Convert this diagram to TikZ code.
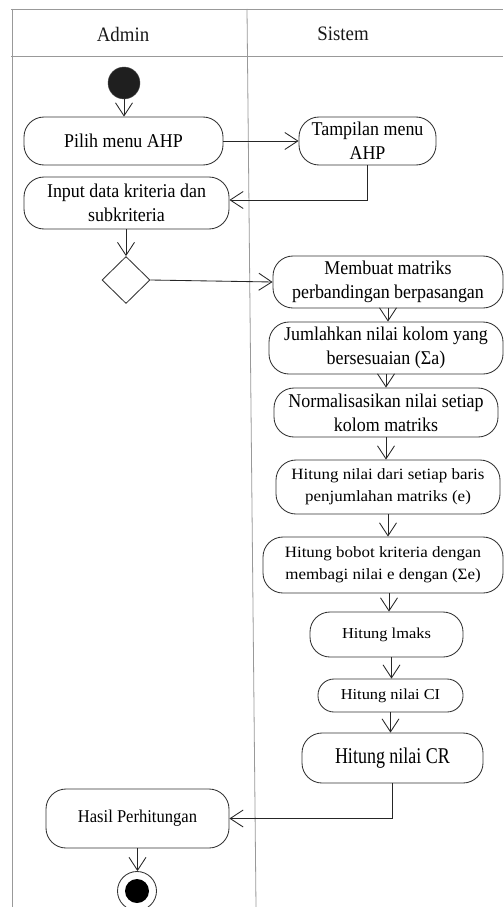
\documentclass[tikz,border=0pt]{standalone}
\usepackage{fontspec}
\setmainfont{Liberation Serif}
% narrow, wide and condensed cuts of the same serif face
\newfontfamily\serifN[FakeStretch=0.92]{Liberation Serif}
\newfontfamily\serifW[FakeStretch=1.08]{Liberation Serif}
\newfontfamily\serifC[FakeStretch=0.80]{Liberation Serif}
\usetikzlibrary{arrows.meta,shapes.geometric}

\begin{document}
\begin{tikzpicture}[x=1pt,y=-1pt,
  lane/.style={draw=black!40, line width=0.8pt},
  act/.style={draw=black!80, line width=0.85pt, rounded corners=20pt,
    align=center, inner sep=0pt, fill=white, text=black},
  flow/.style={draw=black!85, line width=0.85pt,
    -{Straight Barb[length=13pt,width=17pt]}},
  fHead/.style={font=\serifN\fontsize{20.5}{24}\selectfont, text=black!90},
  fN/.style={font=\serifN\fontsize{19.5}{24}\selectfont},
  fW/.style={font=\serifW\fontsize{15.7}{22}\selectfont},
  fWs/.style={font=\serifW\fontsize{15.2}{22}\selectfont},
  fC/.style={font=\serifC\fontsize{22.5}{26}\selectfont},
  fH/.style={font=\serifN\fontsize{18}{22}\selectfont}
]
\useasboundingbox (0,0) rectangle (503,907);
\fill[white] (0,0) rectangle (503,907);

% swimlanes
\draw[lane] (11,9) -- (503,9);
\draw[lane] (11,56) -- (503,56);
\draw[lane] (12,9) -- (12,907);
\draw[lane] (247,9) -- (256,907);
\node[fHead] (admin) at (123,34) {Admin};
\node[fHead] (sistem) at (343,34) {Sistem};

% start and end
\node[circle, fill=black!88, draw=black!70, minimum size=32pt, inner sep=0pt] (start) at (124,83) {};
\node[circle, draw=black!80, line width=0.85pt, fill=white, minimum size=39pt, inner sep=0pt] (end) at (137,891) {};
\fill[black] (end.center) circle (12pt);

% activities
\node[act,fN,minimum width=199pt,minimum height=48pt] (pilih) at (123.5,141) {Pilih menu AHP};
\node[act,fN,minimum width=137pt,minimum height=48pt] (tampil) at (367.5,141) {Tampilan menu\\AHP};
\node[act,fN,minimum width=205pt,minimum height=52pt] (input) at (126.5,203) {Input data kriteria dan\\subkriteria};
\node[draw=black!80, line width=0.85pt, diamond, minimum width=48pt, minimum height=47pt, inner sep=0pt] (dec) at (126,280) {};
\node[act,fN,minimum width=230pt,minimum height=52pt] (matriks) at (388,282) {Membuat matriks\\perbandingan berpasangan};
\node[act,fN,minimum width=234pt,minimum height=52pt] (jumlah) at (386,348) {Jumlahkan nilai kolom yang\\bersesuaian (Σa)};
\node[act,fN,minimum width=224pt,minimum height=49pt] (normal) at (386,412.5) {Normalisasikan nilai setiap\\kolom matriks};
\node[act,fW,minimum width=224pt,minimum height=54pt] (baris) at (388,487) {Hitung nilai dari setiap baris\\penjumlahan matriks (e)};
\node[act,fW,minimum width=240pt,minimum height=56pt] (bobot) at (383,565) {Hitung bobot kriteria dengan\\membagi nilai e dengan (Σe)};
\node[act,fWs,minimum width=153pt,minimum height=45pt] (lmaks) at (386.5,634.5) {Hitung lmaks};
\node[act,fWs,minimum width=145pt,minimum height=33pt,rounded corners=16pt] (ci) at (390.5,695.5) {Hitung nilai CI};
\node[act,fC,minimum width=181pt,minimum height=50pt] (cr) at (392.5,758) {Hitung nilai CR};
\node[act,fH,minimum width=183pt,minimum height=59pt] (hasil) at (137.5,818.5) {Hasil Perhitungan};

% control flow
\draw[flow] (start.south) -- (start.south |- pilih.north);
\draw[flow] (pilih.east) -- (tampil.west);
\draw[flow] (tampil.south) |- ([yshift=3pt]input.east);
\draw[flow] (input.south -| dec.north) -- (dec.north);
\draw[flow] (dec.east) -- (matriks.west);
\draw[flow] (matriks.south) -- (matriks.south |- jumlah.north);
\draw[flow] (jumlah.south) -- (jumlah.south |- normal.north);
\draw[flow] (normal.south) -- (normal.south |- baris.north);
\draw[flow] (baris.south) -- (baris.south |- bobot.north);
\draw[flow] ([xshift=6pt]bobot.south) -- ([xshift=6pt]bobot.south |- lmaks.north);
\draw[flow] ([xshift=5pt]lmaks.south) -- ([xshift=5pt]lmaks.south |- ci.north);
\draw[flow] (ci.south) -- (ci.south |- cr.north);
\draw[flow] (cr.south) |- (hasil.east);
\draw[flow] (hasil.south) -- (hasil.south |- end.north);
\end{tikzpicture}
\end{document}
